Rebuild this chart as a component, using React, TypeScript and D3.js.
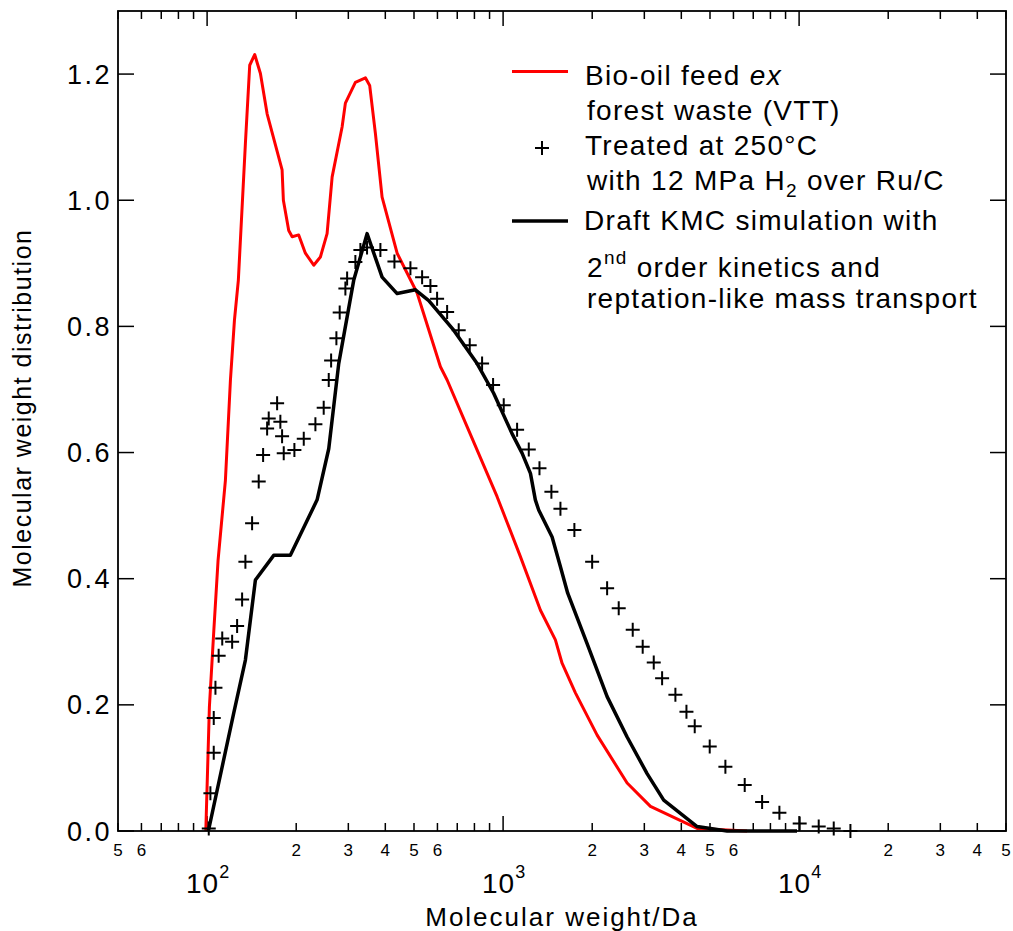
import React from 'react'
import * as d3 from 'd3'

// bio-oil feed (red line)
const feedMW = [99, 101.8, 105.4, 108.9, 115.3, 119.9, 123.7, 127.5, 134.7, 139.3, 144.8, 151.4, 159.5, 179.2, 181, 188.7, 193.8, 203.9, 214.8, 229.2, 241.4, 254.3, 264.5, 285.8, 293.2, 316.9, 342.6, 354.2, 370.3, 390.1, 438.5, 512.3, 614.1, 647, 755.6, 954.4, 1144, 1337, 1502, 1582, 1755, 2078, 2624, 3146, 4523, 6673]
const feedValue = [0, 0.197, 0.319, 0.429, 0.556, 0.715, 0.81, 0.873, 1.09, 1.214, 1.231, 1.201, 1.137, 1.048, 1.0, 0.952, 0.942, 0.945, 0.916, 0.897, 0.91, 0.947, 1.037, 1.116, 1.154, 1.187, 1.194, 1.182, 1.106, 1.005, 0.916, 0.853, 0.736, 0.715, 0.641, 0.53, 0.435, 0.35, 0.303, 0.266, 0.219, 0.152, 0.076, 0.039, 0.004, 0]

// treated sample (plus markers)
const treatedMW = [101.3, 102.6, 105.3, 105.3, 106.7, 109.4, 112.5, 121.5, 126.3, 131.3, 134.7, 141.9, 149.4, 154.6, 159.5, 161.5, 172.4, 176.8, 179.2, 181.5, 197.2, 212.1, 232.2, 247.7, 257.6, 262.4, 273.4, 280.5, 293.2, 297.2, 316.9, 329.5, 347, 385, 429.4, 486.3, 532.6, 568.1, 598.4, 647, 708, 771.4, 849.2, 925, 1005, 1115, 1221, 1327, 1456, 1562, 1741, 1999, 2246, 2458, 2741, 2962, 3228, 3445, 3820, 4163, 4440, 4989, 5636, 6550, 7499, 8579, 10046, 11648, 13092, 14906]
const treatedValue = [0.004, 0.06, 0.124, 0.179, 0.227, 0.278, 0.305, 0.3, 0.325, 0.367, 0.427, 0.488, 0.554, 0.596, 0.638, 0.654, 0.678, 0.649, 0.626, 0.599, 0.604, 0.622, 0.645, 0.671, 0.715, 0.746, 0.781, 0.822, 0.86, 0.876, 0.902, 0.921, 0.925, 0.921, 0.903, 0.892, 0.878, 0.864, 0.844, 0.823, 0.794, 0.77, 0.741, 0.707, 0.675, 0.636, 0.605, 0.575, 0.538, 0.511, 0.477, 0.427, 0.385, 0.353, 0.319, 0.292, 0.267, 0.242, 0.216, 0.189, 0.166, 0.134, 0.102, 0.073, 0.046, 0.029, 0.012, 0.007, 0.004, 0]

// KMC simulation (black line)
const kmcMW = [101, 123, 134.7, 145.6, 167.9, 191.1, 235.3, 257.6, 278.4, 312.8, 347.1, 390.1, 438.5, 505.5, 560.8, 680.8, 817, 929.2, 1072, 1159, 1237, 1285, 1319, 1464, 1562, 1653, 1922, 2246, 2624, 3065, 3488, 4523, 5713, 9840]
const kmcValue = [0, 0.187, 0.271, 0.398, 0.437, 0.437, 0.525, 0.606, 0.741, 0.873, 0.947, 0.878, 0.852, 0.858, 0.841, 0.794, 0.741, 0.694, 0.63, 0.599, 0.567, 0.525, 0.509, 0.466, 0.419, 0.377, 0.297, 0.213, 0.149, 0.091, 0.049, 0.007, 0, 0]

const yTicks = [0, 0.2, 0.4, 0.6, 0.8, 1.0, 1.2]
const decades = [100, 1000, 10000]
const decadeExp = ['2', '3', '4']

const font = '"Liberation Sans", Arial, sans-serif'

export default function App() {
  const left = 118
  const right = 1006
  const top = 11
  const bottom = 831

  const x = d3.scaleLog().domain([50, 50000]).range([left, right])
  const y = d3.scaleLinear().domain([0, 1.3]).range([bottom, top])

  const line = d3.line<[number, number]>()
    .x((d) => x(d[0]))
    .y((d) => y(d[1]))

  const feed = feedMW.map((m, i) => [m, feedValue[i]] as [number, number])
  const kmc = kmcMW.map((m, i) => [m, kmcValue[i]] as [number, number])

  const xTicks = x.ticks()
  const isMajor = (t: number) => decades.some((d) => Math.abs(d - t) < 1e-6)
  const mantissa = (t: number) => Math.round(t / Math.pow(10, Math.floor(Math.log10(t) + 1e-9)))

  const plus = (cx: number, cy: number, r: number, key: any) => (
    <path key={key} d={`M${cx - r},${cy}H${cx + r}M${cx},${cy - r}V${cy + r}`} stroke="#000" strokeWidth={2} />
  )

  return (
    <svg width={1013} height={931} style={{ position: 'absolute', left: 0, top: 0, background: '#fff' }} fontFamily={font}>
      <rect x={0} y={0} width={1013} height={931} fill="#fff" />

      {/* x ticks, bottom and top */}
      {xTicks.map((t, i) => {
        const len = isMajor(t) ? 15 : 8
        return (
          <g key={`xt${i}`} stroke="#000" strokeWidth={1.5}>
            <line x1={x(t)} x2={x(t)} y1={bottom} y2={bottom - len} />
            <line x1={x(t)} x2={x(t)} y1={top} y2={top + len} />
          </g>
        )
      })}
      {/* y ticks, left and right */}
      {yTicks.map((t, i) => (
        <g key={`yt${i}`} stroke="#000" strokeWidth={1.5}>
          <line x1={left} x2={left + 16} y1={y(t)} y2={y(t)} />
          <line x1={right} x2={right - 16} y1={y(t)} y2={y(t)} />
        </g>
      ))}

      {/* minor tick labels */}
      {xTicks.filter((t) => !isMajor(t) && mantissa(t) >= 2 && mantissa(t) <= 6).map((t, i) => (
        <text key={`xl${i}`} x={x(t)} y={856} fontSize={17} textAnchor="middle" fill="#000">
          {mantissa(t)}
        </text>
      ))}
      {/* decade labels */}
      {decades.map((d, i) => (
        <text key={`dl${i}`} x={x(d) + 1} y={893} fontSize={28} textAnchor="middle" letterSpacing={1} fill="#000">
          10
          <tspan fontSize={18} dy={-15}>{decadeExp[i]}</tspan>
        </text>
      ))}

      {/* y tick labels */}
      {yTicks.map((t, i) => (
        <text key={`yl${i}`} x={112} y={y(t) + 9.5} fontSize={27} letterSpacing={2.5} textAnchor="end" fill="#000">
          {t.toFixed(1)}
        </text>
      ))}

      {/* axis titles */}
      <text x={562} y={926} fontSize={26} letterSpacing={2} textAnchor="middle" fill="#000">
        Molecular weight/Da
      </text>
      <text transform="translate(31,408) rotate(-90)" fontSize={25} letterSpacing={1.5} textAnchor="middle" fill="#000">
        Molecular weight distribution
      </text>

      {/* series */}
      <path d={line(feed) || ''} fill="none" stroke="#ff0000" strokeWidth={3} strokeLinejoin="round" />
      {treatedMW.map((m, i) => plus(x(m), y(treatedValue[i]), 7, `p${i}`))}
      <path d={line(kmc) || ''} fill="none" stroke="#000" strokeWidth={3.5} strokeLinejoin="round" />

      {/* frame */}
      <rect x={left} y={top} width={right - left} height={bottom - top} fill="none" stroke="#000" strokeWidth={1.8} />

      {/* legend */}
      <g fontSize={28} letterSpacing={1.3} fill="#000">
        <line x1={512} x2={568} y1={71.5} y2={71.5} stroke="#ff0000" strokeWidth={3} />
        <text x={585} y={85}>
          Bio-oil feed <tspan fontStyle="italic">ex</tspan>
        </text>
        <text x={587} y={120}>forest waste (VTT)</text>
        {plus(542, 148, 7, 'legplus')}
        <text x={585} y={155}>Treated at 250°C</text>
        <text x={587} y={190}>
          with 12 MPa H<tspan fontSize={19} dy={7}>2</tspan><tspan dy={-7}> over Ru/C</tspan>
        </text>
        <line x1={512} x2={568} y1={221} y2={221} stroke="#000" strokeWidth={3.5} />
        <text x={584} y={230}>Draft KMC simulation with</text>
        <text x={587} y={277}>
          2<tspan fontSize={19} dy={-13}>nd</tspan><tspan dy={13}> order kinetics and</tspan>
        </text>
        <text x={587} y={308}>reptation-like mass transport</text>
      </g>
    </svg>
  )
}
